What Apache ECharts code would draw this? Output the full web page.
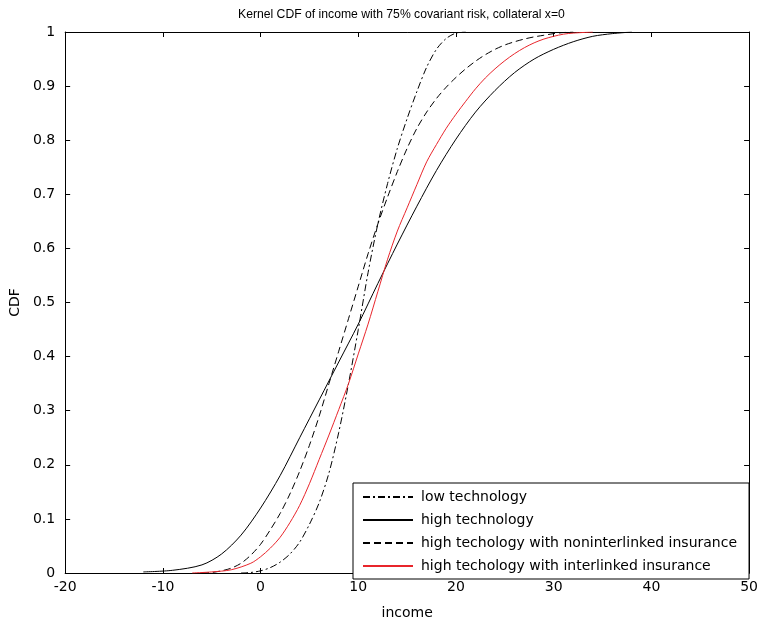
<!DOCTYPE html>
<html>
<head>
<meta charset="utf-8">
<script src="https://cdn.jsdelivr.net/npm/echarts@6/dist/echarts.min.js"></script>
<style>
html,body{margin:0;padding:0;background:#fff;}
#chart{width:761px;height:625px;}
</style>
</head>
<body>
<div id="chart"></div>
<script>
// ---- data ----
var titleText = 'Kernel CDF of income with 75% covariant risk, collateral x=0';
var xTicks = [-20, -10, 0, 10, 20, 30, 40, 50];
var yTicks = [0, 0.1, 0.2, 0.3, 0.4, 0.5, 0.6, 0.7, 0.8, 0.9, 1];
var seriesNames = [
  'low technology',
  'high technology',
  'high techology with noninterlinked insurance',
  'high techology with interlinked insurance'
];

var lowTechX = [-2, -1, 0, 1, 2, 3, 4, 5, 6, 7, 8, 9, 10, 11, 12, 13, 14, 15, 16, 17, 18, 19, 20, 21];
var lowTechY = [0, 0.001, 0.004, 0.01, 0.02, 0.035, 0.057, 0.09, 0.13, 0.185, 0.26, 0.35, 0.45, 0.555, 0.645, 0.72, 0.785, 0.84, 0.89, 0.935, 0.968, 0.988, 0.998, 1.0];

var highTechX = [-12, -9, -6, -4, -2, 0, 2, 4, 6, 8, 10, 12, 14, 16, 18, 20, 22, 24, 26, 28, 30, 32, 34, 36, 38];
var highTechY = [0.002, 0.005, 0.015, 0.035, 0.07, 0.12, 0.18, 0.25, 0.32, 0.39, 0.46, 0.535, 0.608, 0.678, 0.744, 0.802, 0.852, 0.892, 0.925, 0.95, 0.968, 0.982, 0.992, 0.997, 1.0];

var nonInterX = [-6, -5, -4, -3, -2, -1, 0, 1, 2, 3, 4, 5, 6, 7, 8, 9, 10, 11, 12, 13, 14, 15, 16, 17, 18, 19, 20, 21, 22, 23, 24, 25, 26, 27, 28, 29, 30, 31, 32];
var nonInterY = [0, 0.001, 0.004, 0.009, 0.018, 0.033, 0.053, 0.08, 0.11, 0.146, 0.188, 0.236, 0.29, 0.35, 0.41, 0.47, 0.53, 0.59, 0.645, 0.695, 0.742, 0.785, 0.822, 0.852, 0.877, 0.898, 0.916, 0.932, 0.946, 0.958, 0.968, 0.976, 0.982, 0.987, 0.991, 0.994, 0.997, 0.999, 1.0];

var interX = [-7, -5, -3, -1, 0, 1, 2, 3, 4, 5, 6, 7, 8, 9, 10, 11, 12, 13, 14, 15, 16, 17, 18, 19, 20, 21, 22, 23, 24, 25, 26, 27, 28, 29, 30, 31, 32, 34];
var interY = [0, 0.002, 0.006, 0.018, 0.03, 0.046, 0.066, 0.093, 0.125, 0.165, 0.21, 0.255, 0.302, 0.35, 0.405, 0.46, 0.52, 0.58, 0.632, 0.675, 0.718, 0.76, 0.792, 0.822, 0.848, 0.872, 0.895, 0.915, 0.932, 0.947, 0.96, 0.971, 0.98, 0.987, 0.992, 0.996, 0.998, 1.0];

function zip(xs, ys) { return xs.map(function (x, i) { return [x, ys[i]]; }); }

var FONT = 'DejaVu Sans, sans-serif';
var TFONT = 'Liberation Sans, Arial, sans-serif';
var chart = echarts.init(document.getElementById('chart'), null, {renderer: 'canvas'});

var tickStyle = {show: true, inside: true, length: 5, lineStyle: {color: '#000', width: 1}};
var lineAxis = {show: true, onZero: false, lineStyle: {color: '#000', width: 1}};

function mkSeries(name, xs, ys, color, type) {
  return {
    name: name,
    type: 'line',
    data: zip(xs, ys),
    xAxisIndex: 0,
    yAxisIndex: 0,
    symbol: 'none',
    showSymbol: false,
    smooth: 0.3,
    lineStyle: {color: color, width: 1, type: type},
    itemStyle: {color: color},
    emphasis: {disabled: true},
    animation: false
  };
}

chart.setOption({
  animation: false,
  backgroundColor: '#fff',
  title: {
    text: titleText,
    left: 233,
    top: 4,
    textStyle: {fontFamily: TFONT, fontSize: 12.2, fontWeight: 'normal', color: '#000'}
  },
  grid: {left: 65, right: 10, top: 32, bottom: 47, containLabel: false},
  legend: {
    data: seriesNames,
    orient: 'vertical',
    left: 353,
    top: 483,
    itemWidth: 50,
    itemHeight: 14,
    itemGap: 9,
    padding: [7, 12, 6, 9],
    backgroundColor: '#fff',
    borderColor: '#000',
    borderWidth: 1,
    borderRadius: 0,
    itemStyle: {opacity: 0},
    textStyle: {fontFamily: FONT, fontSize: 14, color: '#000', padding: [0, 0, 0, 3]},
    selectedMode: false
  },
  xAxis: [
    {
      type: 'value', min: xTicks[0], max: xTicks[xTicks.length - 1], interval: 10,
      position: 'bottom',
      name: 'income', nameLocation: 'middle', nameGap: 33,
      nameTextStyle: {fontFamily: FONT, fontSize: 14, color: '#000'},
      axisLine: lineAxis, axisTick: tickStyle,
      axisLabel: {fontFamily: FONT, fontSize: 14, color: '#000', margin: 7},
      splitLine: {show: false}
    },
    {
      type: 'value', min: xTicks[0], max: xTicks[xTicks.length - 1], interval: 10,
      position: 'top',
      axisLine: lineAxis, axisTick: tickStyle,
      axisLabel: {show: false}, splitLine: {show: false}
    }
  ],
  yAxis: [
    {
      type: 'value', min: yTicks[0], max: yTicks[yTicks.length - 1], interval: 0.1,
      position: 'left',
      name: 'CDF', nameLocation: 'middle', nameGap: 41,
      nameTextStyle: {fontFamily: FONT, fontSize: 14, color: '#000'},
      axisLine: lineAxis, axisTick: tickStyle,
      axisLabel: {fontFamily: FONT, fontSize: 14, color: '#000', margin: 10},
      splitLine: {show: false}
    },
    {
      type: 'value', min: yTicks[0], max: yTicks[yTicks.length - 1], interval: 0.1,
      position: 'right',
      axisLine: lineAxis, axisTick: tickStyle,
      axisLabel: {show: false}, splitLine: {show: false}
    }
  ],
  series: [
    mkSeries(seriesNames[0], lowTechX, lowTechY, '#000', [7, 3, 2, 3]),
    mkSeries(seriesNames[1], highTechX, highTechY, '#000', 'solid'),
    mkSeries(seriesNames[2], nonInterX, nonInterY, '#000', [7, 4]),
    mkSeries(seriesNames[3], interX, interY, '#e8252b', 'solid')
  ]
});
</script>
</body>
</html>
